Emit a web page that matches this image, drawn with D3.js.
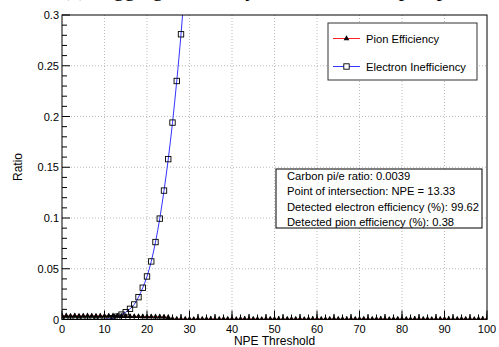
<!DOCTYPE html>
<html><head><meta charset="utf-8">
<script src="https://cdn.jsdelivr.net/npm/d3@7"></script>
<style>body{margin:0;background:#fff}svg{display:block}</style>
</head><body>
<script>
// ---- data ----
const titleText = "(a) Tagging efficiency for Carbon sample, pion/electron";
const xTicks = [0,10,20,30,40,50,60,70,80,90,100];
const yTicks = [0,0.05,0.1,0.15,0.2,0.25,0.3];
const yTickLabels = ["0","0.05","0.1","0.15","0.2","0.25","0.3"];
const electronNPE = [0,1,2,3,4,5,6,7,8,9,10,11,12,13,14,15,16,17,18,19,20,21,22,23,24,25,26,27,28,29,30];
const electronIneff = [0,0,0,0,0,0,0,0,0,0,0.0002,0.0005,0.0012,0.0028,0.0048,0.0072,0.0105,0.0148,0.022,0.0313,0.0424,0.0572,0.0763,0.0994,0.127,0.158,0.194,0.235,0.281,0.335,0.39];
const pionEff = [0.0036,0.0036,0.0035,0.0036,0.0035,0.0035,0.0036,0.0035,0.0035,0.0035,0.0035,0.0035,0.0036,
  0.0034,0.0033,0.0032,0.0031,0.003,0.003,0.0029,0.0028,0.0028,0.0027,0.0026,0.0025,0.0022,
  0.0006,0.0005,0.0004,0.0005,0.0004,0.0003,0.0005,0.0004,0.0004,0.0005,0.0003,0.0004,0.0005,0.0004,
  0.0004,0.0003,0.0005,0.0004,0.0004,0.0005,0.0004,0.0003,0.0004,0.0005,0.0004,0.0004,0.0003,0.0005,
  0.0004,0.0004,0.0005,0.0003,0.0004,0.0004,0.0005,0.0004,0.0003,0.0004,0.0005,0.0004,0.0004,0.0003,
  0.0005,0.0004,0.0004,0.0005,0.0003,0.0004,0.0004,0.0005,0.0004,0.0003,0.0004,0.0005,0.0004,0.0004,
  0.0003,0.0005,0.0004,0.0004,0.0005,0.0003,0.0004,0.0004,0.0005,0.0004,0.0003,0.0004,0.0005,0.0004,
  0.0004,0.0003,0.0005,0.0004,0.0004];
const pionErr = [0.002,0.0025,0.002,0.0025,0.002,0.0025,0.002,0.0025,0.002,0.0025,0.002,0.0025,0.002,
  0.0025,0.002,0.0025,0.002,0.0025,0.002,0.0025,0.002,0.0025,0.002,0.0025,0.002,0.0025,
  0.004,0.002,0.005,0.002,0.004,0.002,0.005,0.002,0.004,0.003,0.005,0.002,0.004,0.002,
  0.005,0.002,0.004,0.003,0.005,0.002,0.004,0.002,0.005,0.002,0.004,0.003,0.005,0.002,
  0.004,0.002,0.005,0.002,0.004,0.003,0.005,0.002,0.004,0.002,0.005,0.002,0.004,0.003,
  0.005,0.002,0.004,0.002,0.005,0.002,0.004,0.003,0.005,0.002,0.004,0.002,0.005,0.002,
  0.004,0.003,0.005,0.002,0.004,0.002,0.005,0.002,0.004,0.003,0.005,0.002,0.004,0.002,
  0.005,0.002,0.004,0.003,0.005];
const legendLabels = ["Pion Efficiency","Electron Inefficiency"];
const statsLines = ["Carbon pi/e ratio: 0.0039","Point of intersection: NPE = 13.33","Detected electron efficiency (%): 99.62","Detected pion efficiency (%): 0.38"];

// ---- chart ----
const W=499,H=347;
const L=62,R=487,T=15,B=319.5;
const x=d3.scaleLinear().domain([0,100]).range([L,R]);
const y=d3.scaleLinear().domain([0,0.3]).range([B,T]);
const svg=d3.select("body").append("svg").attr("width",W).attr("height",H);
const font="'Liberation Sans',Arial,Helvetica,sans-serif";

svg.append("defs").append("clipPath").attr("id","clip")
  .append("rect").attr("x",L).attr("y",T).attr("width",R-L).attr("height",B-T);

// title (cut off at top, as in the reference)
svg.append("text").attr("x",L).attr("y",-4.5).attr("font-family","'Liberation Serif','Times New Roman',serif")
  .attr("font-size",22).attr("fill","#000").text(titleText);

// grid
const grid=svg.append("g").attr("stroke","#bbb").attr("stroke-width",1).attr("stroke-dasharray","1,2");
xTicks.slice(1,-1).forEach(t=>grid.append("line").attr("x1",x(t)).attr("x2",x(t)).attr("y1",T).attr("y2",B));
yTicks.slice(1,-1).forEach(t=>grid.append("line").attr("x1",L).attr("x2",R).attr("y1",y(t)).attr("y2",y(t)));

const plot=svg.append("g").attr("clip-path","url(#clip)");
// electron curve
const eData=electronNPE.map((n,i)=>[n,electronIneff[i]]);
plot.append("path").datum(eData)
  .attr("d",d3.line().x(d=>x(d[0])).y(d=>y(d[1])).curve(d3.curveCatmullRom))
  .attr("fill","none").attr("stroke","#3333ff").attr("stroke-width",1);
// pion line
const pData=pionEff.map((v,i)=>[i,v,pionErr[i]]);
plot.append("path").datum(pData)
  .attr("d",d3.line().x(d=>x(d[0])).y(d=>y(d[1])))
  .attr("fill","none").attr("stroke","#ff2222").attr("stroke-width",1);
// pion error bars
plot.selectAll(".eb").data(pData).enter().append("line")
  .attr("x1",d=>x(d[0])).attr("x2",d=>x(d[0]))
  .attr("y1",d=>y(d[1]+d[2])).attr("y2",d=>y(Math.max(0,d[1]-d[2])))
  .attr("stroke","#000").attr("stroke-width",1);
// pion markers
const tri=d3.symbol().type(d3.symbolTriangle).size(14);
plot.selectAll(".pt").data(pData).enter().append("path")
  .attr("d",tri).attr("transform",d=>`translate(${x(d[0])},${y(d[1])})`).attr("fill","#000");
// electron markers
const sq=5.4;
plot.selectAll(".es").data(eData).enter().append("rect")
  .attr("x",d=>x(d[0])-sq/2).attr("y",d=>y(d[1])-sq/2).attr("width",sq).attr("height",sq)
  .attr("fill","none").attr("stroke","#000").attr("stroke-width",0.9);

// frame
svg.append("rect").attr("x",L).attr("y",T).attr("width",R-L).attr("height",B-T)
  .attr("fill","none").attr("stroke","#000").attr("stroke-width",1);

// ticks
const ax=svg.append("g").attr("stroke","#000").attr("stroke-width",1);
d3.range(0,31).forEach(i=>{const v=i/100;const major=i%5===0;
  ax.append("line").attr("x1",L).attr("x2",L+(major?8:5)).attr("y1",y(v)).attr("y2",y(v));});
d3.range(0,51).forEach(i=>{const v=i*2;const major=i%5===0;
  ax.append("line").attr("x1",x(v)).attr("x2",x(v)).attr("y1",B).attr("y2",B-(major?9:5));});

svg.selectAll(".yl").data(yTicks).enter().append("text")
  .attr("x",L-3).attr("y",d=>y(d)+4).attr("text-anchor","end")
  .attr("font-family",font).attr("font-size",11).text((d,i)=>yTickLabels[i]);
svg.selectAll(".xl").data(xTicks).enter().append("text")
  .attr("x",d=>x(d)).attr("y",333).attr("text-anchor","middle")
  .attr("font-family",font).attr("font-size",11).text(d=>d);

svg.append("text").attr("x",(L+R)/2).attr("y",345).attr("text-anchor","middle")
  .attr("font-family",font).attr("font-size",12).text("NPE Threshold");
svg.append("text").attr("transform","translate(22,167) rotate(-90)").attr("text-anchor","middle")
  .attr("font-family",font).attr("font-size",12).text("Ratio");

// legend
const lg=svg.append("g");
lg.append("rect").attr("x",328).attr("y",23).attr("width",149).attr("height",57)
  .attr("fill","#fff").attr("stroke","#333").attr("stroke-width",1);
const ly=[38.5,66.5];
lg.append("line").attr("x1",333).attr("x2",360).attr("y1",ly[0]).attr("y2",ly[0]).attr("stroke","#ff2222");
lg.append("path").attr("d",tri).attr("transform",`translate(346.5,${ly[0]})`).attr("fill","#000");
lg.append("line").attr("x1",333).attr("x2",360).attr("y1",ly[1]).attr("y2",ly[1]).attr("stroke","#3333ff");
lg.append("rect").attr("x",346.5-sq/2).attr("y",ly[1]-sq/2).attr("width",sq).attr("height",sq)
  .attr("fill","#fff").attr("stroke","#000").attr("stroke-width",0.9);
legendLabels.forEach((t,i)=>lg.append("text").attr("x",366).attr("y",ly[i]+4.5)
  .attr("font-family",font).attr("font-size",11.2).text(t));

// stats box
const sb=svg.append("g");
sb.append("rect").attr("x",276).attr("y",169).attr("width",206).attr("height",59)
  .attr("fill","#fff").attr("stroke","#000").attr("stroke-width",1);
statsLines.forEach((t,i)=>sb.append("text").attr("x",287).attr("y",179.5+i*15.6)
  .attr("font-family",font).attr("font-size",11.2).text(t));
</script>
</body></html>
